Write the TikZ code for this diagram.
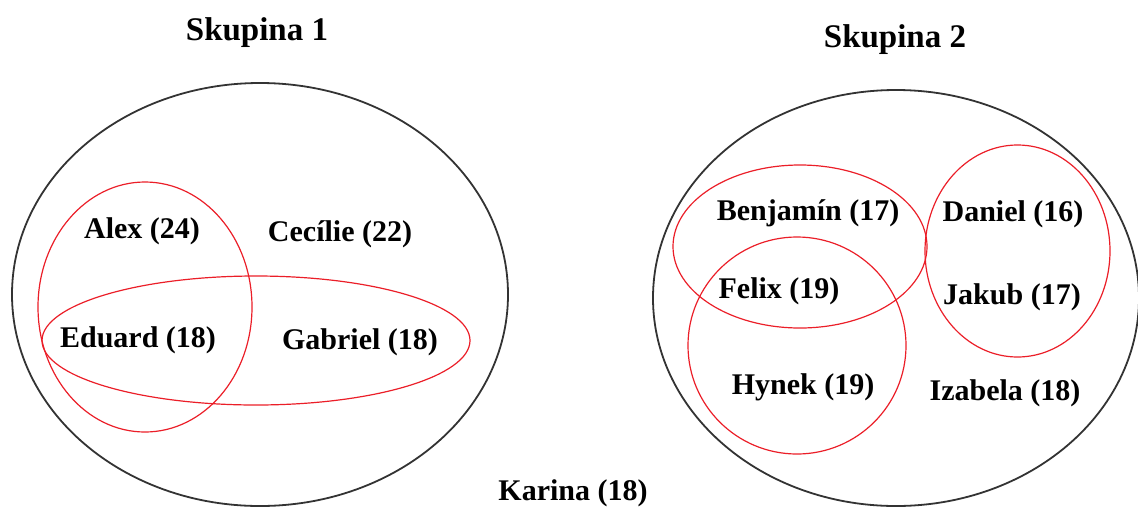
\documentclass[tikz,border=0pt]{standalone}
\usepackage{fontspec}
\setmainfont{Liberation Serif}
\begin{document}
\begin{tikzpicture}[x=1pt,y=-1pt,
  outerset/.style={draw=black!80, line width=1.8pt},
  innerset/.style={draw={rgb,255:red,235;green,30;blue,40}, line width=1.2pt},
  lbl/.style={font=\bfseries\fontsize{30}{30}\selectfont, inner sep=0pt},
  ttl/.style={font=\bfseries\fontsize{33}{33}\selectfont, inner sep=0pt}]
\useasboundingbox (0,0) rectangle (1138,507);
% outer sets
\draw[outerset] (260,294.5) ellipse [x radius=248pt, y radius=211.5pt];
\draw[outerset] (896,298) ellipse [x radius=243pt, y radius=208pt];
% inner sets, group 1
\draw[innerset] (145,307) ellipse [x radius=107pt, y radius=125pt];
\draw[innerset] (256,340.5) ellipse [x radius=214pt, y radius=64.5pt];
% inner sets, group 2
\draw[innerset] (800,246.5) ellipse [x radius=127pt, y radius=81.5pt];
\draw[innerset] (797,345.5) ellipse [x radius=109pt, y radius=108.5pt];
\draw[innerset] (1017.5,251) ellipse [x radius=92.5pt, y radius=106pt];
% titles
\node[ttl] (t1) at (257,33) {Skupina 1};
\node[ttl] (t2) at (895,40) {Skupina 2};
% labels group 1
\node[lbl] (alex) at (142,231) {Alex (24)};
\node[lbl] (cecilie) at (340,234) {Cecílie (22)};
\node[lbl] (eduard) at (138,340) {Eduard (18)};
\node[lbl] (gabriel) at (360,342) {Gabriel (18)};
% labels group 2
\node[lbl] (benjamin) at (808,213) {Benjamín (17)};
\node[lbl] (daniel) at (1013,214) {Daniel (16)};
\node[lbl] (felix) at (779,291) {Felix (19)};
\node[lbl] (jakub) at (1012,297) {Jakub (17)};
\node[lbl] (hynek) at (803,387) {Hynek (19)};
\node[lbl] (izabela) at (1005,393) {Izabela (18)};
% outside
\node[lbl] (karina) at (573,493) {Karina (18)};
\end{tikzpicture}
\end{document}
